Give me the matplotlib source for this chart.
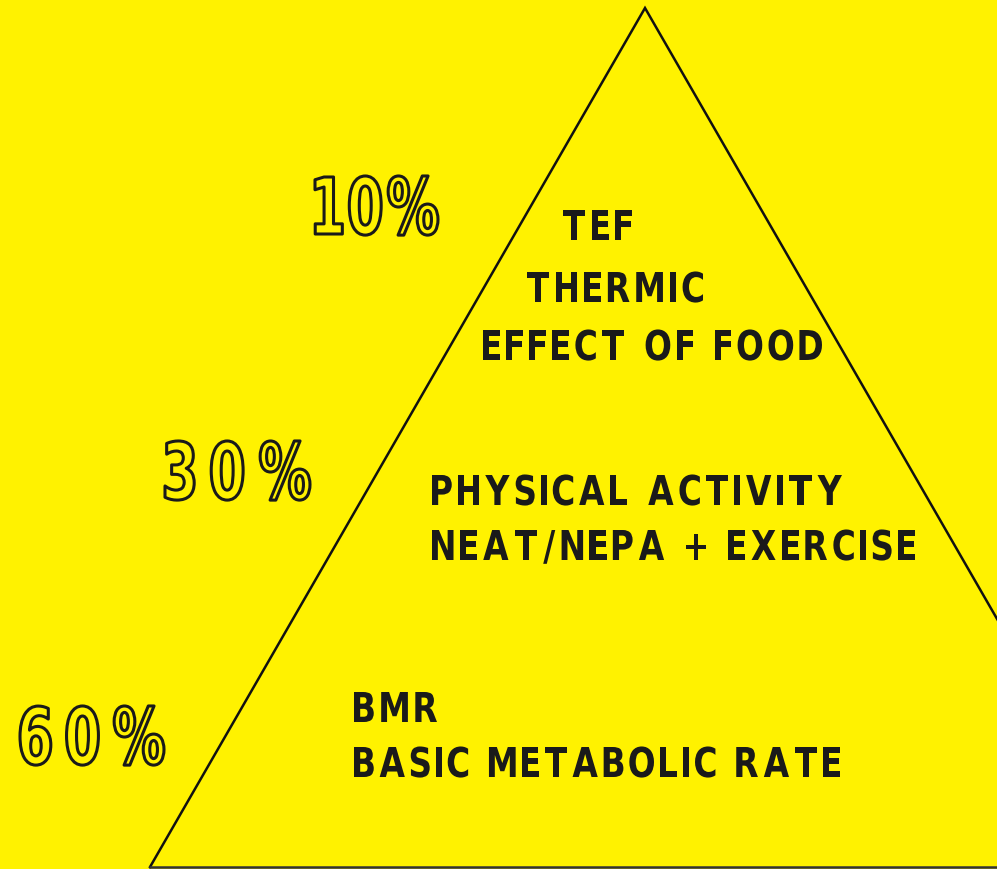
import matplotlib
matplotlib.use('Agg')
from matplotlib import pyplot as plt
from matplotlib.textpath import TextPath
from matplotlib.patches import PathPatch
from matplotlib.font_manager import FontProperties
from matplotlib.transforms import Affine2D

# energy expenditure pyramid
shares = ['10%', '30%', '60%']
tier_lines = [
    ['TEF', 'THERMIC', 'EFFECT OF FOOD'],
    ['PHYSICAL ACTIVITY', 'NEAT/NEPA + EXERCISE'],
    ['BMR', 'BASIC METABOLIC RATE'],
]

BG = '#fff200'
INK = '#1a1a1a'
fp = FontProperties(family='DejaVu Sans', weight='bold')
CAP = TextPath((0, 0), 'H', size=1, prop=fp).get_extents().y1

W, H = 997, 869
fig = plt.figure(figsize=(W / 100, H / 100), dpi=100, facecolor=BG)
ax = fig.add_axes([0, 0, 1, 1])
ax.set_xlim(0, W)
ax.set_ylim(H, 0)
ax.set_facecolor(BG)
ax.axis('off')


def spaced_text(x0, x1, yb, s, cap_px, squeeze=0.8, outline=False):
    """glyphs of s squeezed to cap_px tall and spread evenly from x0 to x1"""
    sy = cap_px / CAP
    sx = sy * squeeze
    glyphs = []
    for ch in s:
        if ch == ' ':
            glyphs.append((None, 0, 0.3 * cap_px))
            continue
        tp = TextPath((0, 0), ch, size=1, prop=fp)
        ext = tp.get_extents()
        glyphs.append((tp, ext.x0, (ext.x1 - ext.x0) * sx))
    total = sum(g[2] for g in glyphs)
    gap = (x1 - x0 - total) / max(len(glyphs) - 1, 1)
    x = x0
    for tp, gx0, w in glyphs:
        if tp is not None:
            tr = Affine2D().scale(sx, -sy).translate(x - gx0 * sx, yb)
            path = tr.transform_path(tp)
            if outline:
                patch = PathPatch(path, facecolor=BG, edgecolor=INK, lw=2.2,
                                  joinstyle='round')
            else:
                patch = PathPatch(path, facecolor=INK, edgecolor='none')
            ax.add_patch(patch)
        x += w + gap


# triangle
apex = (645, 8)
left = (150, 867)
right = (645 + (645 - 150), 867)
ax.plot([left[0], apex[0], right[0]], [left[1], apex[1], right[1]],
        color='#111111', lw=1.8, solid_joinstyle='miter')
ax.plot([left[0], W], [867, 867], color='#333333', lw=1.8)

# percentage labels (outlined)
pct_pos = [(315, 438, 234), (165, 310, 499), (20, 164, 764)]
for s, (x0, x1, yb) in zip(shares, pct_pos):
    spaced_text(x0, x1, yb, s, 57, squeeze=0.68, outline=True)

# tier descriptions
line_pos = [
    [(563, 632, 240), (527, 703, 302), (483, 822, 360)],
    [(432, 842, 505), (432, 915, 560)],
    [(354, 437, 722), (354, 840, 777)],
]
for lines, pos in zip(tier_lines, line_pos):
    for s, (x0, x1, yb) in zip(lines, pos):
        spaced_text(x0, x1, yb, s, 30)

fig.savefig('out.png', dpi=100, facecolor=BG)
